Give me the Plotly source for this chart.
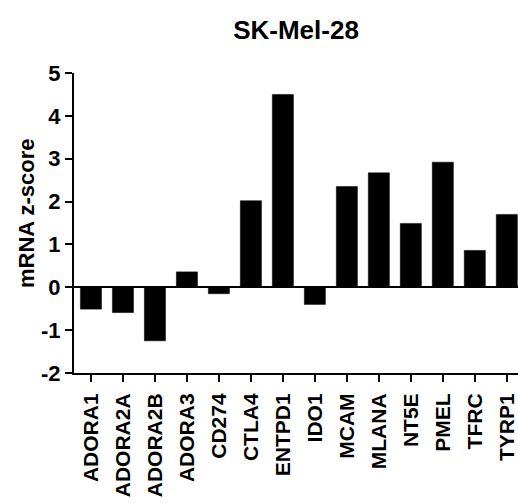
import plotly.graph_objects as go

genes = ["ADORA1", "ADORA2A", "ADORA2B", "ADORA3", "CD274", "CTLA4", "ENTPD1",
         "IDO1", "MCAM", "MLANA", "NT5E", "PMEL", "TFRC", "TYRP1"]
zscores = [-0.51, -0.59, -1.25, 0.36, -0.15, 2.02, 4.50,
           -0.40, 2.35, 2.67, 1.49, 2.92, 0.86, 1.70]
y_ticks = [-2, -1, 0, 1, 2, 3, 4, 5]

FONT = "Liberation Sans, Arial, sans-serif"
W, H = 518, 503
L, R, T, B = 74, 0, 73, 130

fig = go.Figure(
    go.Bar(
        x=list(range(len(genes))),
        y=zscores,
        width=0.66,
        marker=dict(color="black", line=dict(color="black", width=0.5)),
    )
)

fig.update_layout(
    width=W,
    height=H,
    margin=dict(l=L, r=R, t=T, b=B, autoexpand=False),
    paper_bgcolor="white",
    plot_bgcolor="white",
    showlegend=False,
    title=dict(
        text="SK-Mel-28",
        x=0.5,
        xref="paper",
        xanchor="center",
        y=1 - 30 / H,
        yanchor="middle",
        font=dict(family=FONT, size=26, color="black", weight="bold"),
    ),
    annotations=[
        dict(
            text="mRNA z-score",
            textangle=-90,
            xref="paper",
            yref="paper",
            x=(26 - L) / (W - L - R),
            y=(H - B - 213) / (H - T - B),
            xanchor="center",
            yanchor="middle",
            showarrow=False,
            font=dict(family=FONT, size=22, color="black", weight="bold"),
        )
    ],
)

fig.update_xaxes(
    automargin=False,
    range=[-0.53, 13.35],
    tickmode="array",
    tickvals=list(range(len(genes))),
    ticktext=genes,
    tickangle=-90,
    ticks="outside",
    ticklen=7,
    tickwidth=2,
    tickcolor="black",
    ticklabelstandoff=3,
    ticklabeloverflow="allow",
    showline=True,
    linecolor="black",
    linewidth=2,
    showgrid=False,
    zeroline=False,
    tickfont=dict(family=FONT, size=21, color="black", weight="bold"),
)

fig.update_yaxes(
    automargin=False,
    range=[-2, 5],
    tickmode="array",
    tickvals=y_ticks,
    ticktext=[str(v) for v in y_ticks],
    ticks="outside",
    ticklen=7,
    tickwidth=2,
    tickcolor="black",
    showline=True,
    linecolor="black",
    linewidth=2,
    showgrid=False,
    zeroline=True,
    zerolinecolor="black",
    zerolinewidth=2,
    tickfont=dict(family=FONT, size=22, color="black", weight="bold"),
)

fig.write_html("out.html")
